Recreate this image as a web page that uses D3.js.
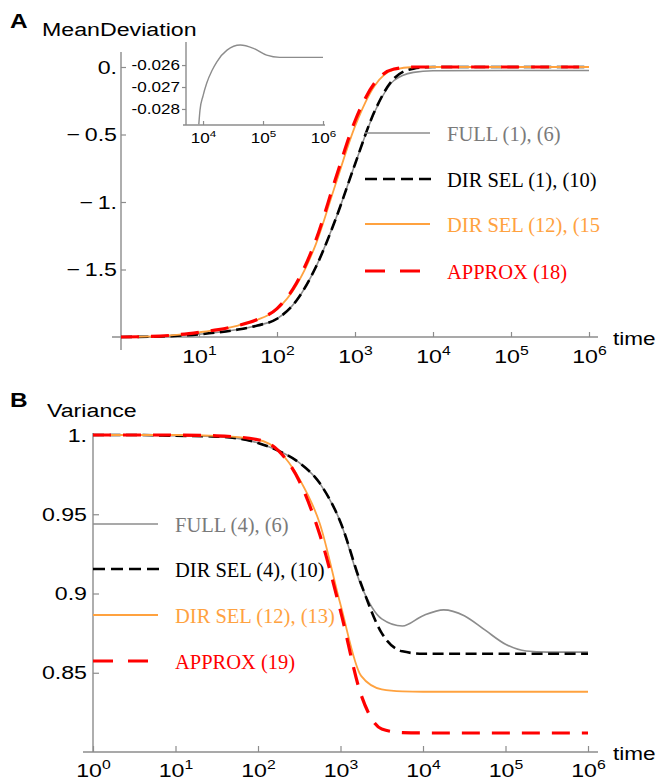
<!DOCTYPE html>
<html>
<head>
<meta charset="utf-8">
<script src="https://cdn.jsdelivr.net/npm/d3@7"></script>
<style>
  body { margin: 0; background: #fff; }
  svg { display: block; }
  text { font-family: "Liberation Sans", Arial, sans-serif; }
  .legend text { font-family: "Liberation Serif", "Times New Roman", serif; }
</style>
</head>
<body>
<div id="chart"></div>
<script>
// ---- panel A : mean deviation ----
const timesA = [1, 3.16, 10, 17.8, 31.6, 56.2, 100, 178, 316, 562, 1000, 1778, 3162, 5623, 10000, 100000, 1000000];
const fullA = [-2, -1.996, -1.98, -1.965, -1.945, -1.915, -1.865, -1.73, -1.48, -1.13, -0.72, -0.335, -0.1, -0.04, -0.0275, -0.0255, -0.0256];
const dirSelA = [-2, -1.996, -1.98, -1.965, -1.945, -1.915, -1.865, -1.73, -1.48, -1.13, -0.72, -0.33, -0.085, -0.012, 0, 0, 0];
const dirSel12A = [-2, -1.993, -1.965, -1.945, -1.915, -1.872, -1.795, -1.615, -1.31, -0.87, -0.44, -0.14, -0.02, 0, 0, 0, 0];
const approxA = [-2, -1.993, -1.965, -1.945, -1.915, -1.87, -1.79, -1.6, -1.28, -0.83, -0.4, -0.12, -0.015, 0, 0, 0, 0];
const xTicksA = [10, 100, 1e3, 1e4, 1e5, 1e6];
const yTicksA = [0, -0.5, -1, -1.5];
const yLabelsA = ['0.', '\u2212\u20090.5', '\u2212\u20091.', '\u2212\u20091.5'];
const legendA = ['FULL (1), (6)', 'DIR SEL (1), (10)', 'DIR SEL (12), (15', 'APPROX (18)'];

// inset of panel A (FULL only)
const insetTimes = [8500, 8900, 10000, 11500, 14100, 17000, 25100, 41700, 69200, 115000, 190000, 1000000];
const insetFull = [-0.0287, -0.02805, -0.0274, -0.02683, -0.02625, -0.02585, -0.02532, -0.02509, -0.02524, -0.02555, -0.02565, -0.02565];
const insetXTicks = [1e4, 1e5, 1e6];
const insetYTicks = [-0.026, -0.027, -0.028];
const insetYLabels = ['-0.026', '-0.027', '-0.028'];

// ---- panel B : variance ----
const timesB = [1, 3.16, 10, 31.6, 100, 178, 316, 562, 1000, 1778, 3162, 5623, 10000, 17783, 31623, 56234, 100000, 177828, 316228, 1000000];
const fullB = [1, 1, 0.9995, 0.999, 0.995, 0.99, 0.9825, 0.9695, 0.945, 0.905, 0.884, 0.8795, 0.886, 0.8897, 0.886, 0.877, 0.868, 0.8637, 0.863, 0.863];
const dirSelB = [1, 1, 0.9995, 0.999, 0.995, 0.99, 0.9825, 0.9695, 0.945, 0.906, 0.875, 0.8635, 0.862, 0.862, 0.862, 0.862, 0.862, 0.862, 0.862, 0.862];
const dirSel12B = [1, 1, 1, 0.9995, 0.997, 0.99, 0.9725, 0.944, 0.893, 0.848, 0.8395, 0.8382, 0.838, 0.838, 0.838, 0.838, 0.838, 0.838, 0.838, 0.838];
const approxB = [1, 1, 1, 0.9995, 0.997, 0.99, 0.971, 0.937, 0.889, 0.836, 0.8145, 0.8122, 0.812, 0.812, 0.812, 0.812, 0.812, 0.812, 0.812, 0.812];
const xTicksB = [1, 10, 100, 1e3, 1e4, 1e5, 1e6];
const yTicksB = [1, 0.95, 0.9, 0.85];
const yLabelsB = ['1.', '0.95', '0.9', '0.85'];
const legendB = ['FULL (4), (6)', 'DIR SEL (4), (10)', 'DIR SEL (12), (13)', 'APPROX (19)'];

// line styles, same order as the series: full, dir sel, dir sel (12), approx
const styles = [
  {color: '#8c8c8c', text: '#7a7a7a', width: 1.6, dash: null, legDash: null, legLen: 65},
  {color: '#000000', text: '#000000', width: 2.6, dash: '11,5.5', legDash: '12,6', legLen: 66},
  {color: '#ffa23f', text: '#ffa23f', width: 1.8, dash: null, legDash: null, legLen: 65},
  {color: '#ff0000', text: '#ff0000', width: 3.2, dash: '18,12', legDash: '20,15', legLen: 55}
];

const SX = 1.22; // sans labels in the figure are a bit stretched sideways
const axisColor = '#8c8c8c';

let svg = d3.select('#chart')
  .append('svg')
  .attr('width', 659)
  .attr('height', 782);

function label(x, y, txt, size, opts) {
  opts = opts || {};
  let t = svg.append('text')
    .attr('transform', `translate(${x},${y}) scale(${SX},1)`)
    .attr('font-size', size)
    .attr('font-weight', opts.bold ? 'bold' : null)
    .attr('text-anchor', opts.anchor || 'start')
    .attr('fill', '#000')
    .text(txt);
  return t;
}

function powerLabels(g, y, size) {
  g.selectAll('.tick text').each(function(d) {
    let t = d3.select(this)
      .text(null)
      .attr('y', y)
      .attr('dy', null)
      .attr('font-size', size)
      .attr('fill', '#000')
      .attr('transform', `scale(${SX},1)`);
    t.append('tspan').text('10');
    t.append('tspan')
      .attr('dy', -size * 0.42)
      .attr('font-size', size * 0.68)
      .text(Math.round(Math.log10(d)));
  });
}

function styleAxis(g) {
  g.select('.domain').remove();
  g.selectAll('.tick line').attr('stroke', axisColor).attr('stroke-width', 1.2);
}

function axisLine(x1, y1, x2, y2) {
  svg.append('line')
    .attr('x1', x1).attr('y1', y1).attr('x2', x2).attr('y2', y2)
    .attr('stroke', axisColor)
    .attr('stroke-width', 1.4);
}

function drawSeries(x, y, times, series, clip) {
  series.forEach(function(vals, i) {
    let st = styles[i];
    let line = d3.line()
      .x(function(d, j) { return x(times[j]); })
      .y(function(d) { return y(d); })
      .curve(d3.curveMonotoneX);
    svg.append('path')
      .datum(vals)
      .attr('d', line)
      .attr('fill', 'none')
      .attr('stroke', st.color)
      .attr('stroke-width', st.width)
      .attr('stroke-dasharray', st.dash)
      .attr('clip-path', clip || null);
  });
}

function drawLegend(x0, ys, labels) {
  let g = svg.append('g').attr('class', 'legend');
  labels.forEach(function(txt, i) {
    let st = styles[i];
    g.append('line')
      .attr('x1', x0).attr('x2', x0 + st.legLen)
      .attr('y1', ys[i]).attr('y2', ys[i])
      .attr('stroke', st.color)
      .attr('stroke-width', st.width)
      .attr('stroke-dasharray', st.legDash);
    g.append('text')
      .attr('x', x0 + 82)
      .attr('y', ys[i] + 8)
      .attr('font-size', 20.5)
      .attr('fill', st.text)
      .text(txt);
  });
}

// ================= panel A =================
let xA = d3.scaleLog().domain([1, 1e6]).range([121, 589]);
let yA = d3.scaleLinear().domain([-2, 0]).range([337, 67]);

axisLine(112, yA(-2), 598, yA(-2));
axisLine(xA(1), 52, xA(1), 350);

let xAxisA = svg.append('g')
  .attr('transform', `translate(0,${yA(-2)})`)
  .call(d3.axisBottom(xA).tickValues(xTicksA).tickSize(-5).tickFormat(''));
styleAxis(xAxisA);
powerLabels(xAxisA, 26, 19);

let yAxisA = svg.append('g')
  .attr('transform', `translate(${xA(1)},0)`)
  .call(d3.axisLeft(yA).tickValues(yTicksA).tickSize(-5).tickFormat(function(d, i) { return yLabelsA[i]; }));
styleAxis(yAxisA);
yAxisA.selectAll('.tick text')
  .attr('x', -4 / SX)
  .attr('font-size', 19)
  .attr('fill', '#000')
  .attr('transform', `scale(${SX},1)`);

drawSeries(xA, yA, timesA, [fullA, dirSelA, dirSel12A, approxA]);

label(10, 28, 'A', 20, {bold: true});
label(42, 36, 'MeanDeviation', 19);
label(613, 345, 'time', 18.5);

drawLegend(365, [133, 179, 224, 271], legendA);

// ---- inset ----
let xIn = d3.scaleLog().domain([5200, 1e6]).range([186, 323]);
let yIn = d3.scaleLinear().domain([-0.02873, -0.02495]).range([125, 42]);

svg.append('clipPath').attr('id', 'insetClip')
  .append('rect')
  .attr('x', xIn.range()[0]).attr('y', yIn.range()[1])
  .attr('width', xIn.range()[1] - xIn.range()[0] + 2)
  .attr('height', yIn.range()[0] - yIn.range()[1]);

axisLine(183, yIn.range()[0], 325, yIn.range()[0]);
axisLine(xIn.range()[0], yIn.range()[1], xIn.range()[0], yIn.range()[0]);

let xAxisIn = svg.append('g')
  .attr('transform', `translate(0,${yIn.range()[0]})`)
  .call(d3.axisBottom(xIn).tickValues(insetXTicks).tickSize(-4).tickFormat(''));
styleAxis(xAxisIn);
powerLabels(xAxisIn, 18, 14);

let yAxisIn = svg.append('g')
  .attr('transform', `translate(${xIn.range()[0]},0)`)
  .call(d3.axisLeft(yIn).tickValues(insetYTicks).tickSize(4).tickFormat(function(d, i) { return insetYLabels[i]; }));
styleAxis(yAxisIn);
yAxisIn.selectAll('.tick text')
  .attr('x', -6 / SX)
  .attr('font-size', 14)
  .attr('fill', '#000')
  .attr('transform', `scale(${SX},1)`);

svg.append('path')
  .datum(insetFull)
  .attr('d', d3.line()
    .x(function(d, j) { return xIn(insetTimes[j]); })
    .y(function(d) { return yIn(d); })
    .curve(d3.curveMonotoneX))
  .attr('fill', 'none')
  .attr('stroke', styles[0].color)
  .attr('stroke-width', 1.4)
  .attr('clip-path', 'url(#insetClip)');

// ================= panel B =================
let xB = d3.scaleLog().domain([1, 1e6]).range([93, 588]);
let yB = d3.scaleLinear().domain([0.8, 1]).range([752, 435]);

axisLine(83, yB(0.8), 598, yB(0.8));
axisLine(xB(1), 433, xB(1), yB(0.8));

let xAxisB = svg.append('g')
  .attr('transform', `translate(0,${yB(0.8)})`)
  .call(d3.axisBottom(xB).tickValues(xTicksB).tickSize(-6).tickFormat(''));
styleAxis(xAxisB);
powerLabels(xAxisB, 25, 19);

let yAxisB = svg.append('g')
  .attr('transform', `translate(${xB(1)},0)`)
  .call(d3.axisLeft(yB).tickValues(yTicksB).tickSize(-6).tickFormat(function(d, i) { return yLabelsB[i]; }));
styleAxis(yAxisB);
yAxisB.selectAll('.tick text')
  .attr('x', -6 / SX)
  .attr('font-size', 19)
  .attr('fill', '#000')
  .attr('transform', `scale(${SX},1)`);

drawSeries(xB, yB, timesB, [fullB, dirSelB, dirSel12B, approxB]);

label(10, 407, 'B', 20, {bold: true});
label(47, 417, 'Variance', 19);
label(613, 760, 'time', 18.5);

drawLegend(93, [524, 569, 615, 661], legendB);
</script>
</body>
</html>
